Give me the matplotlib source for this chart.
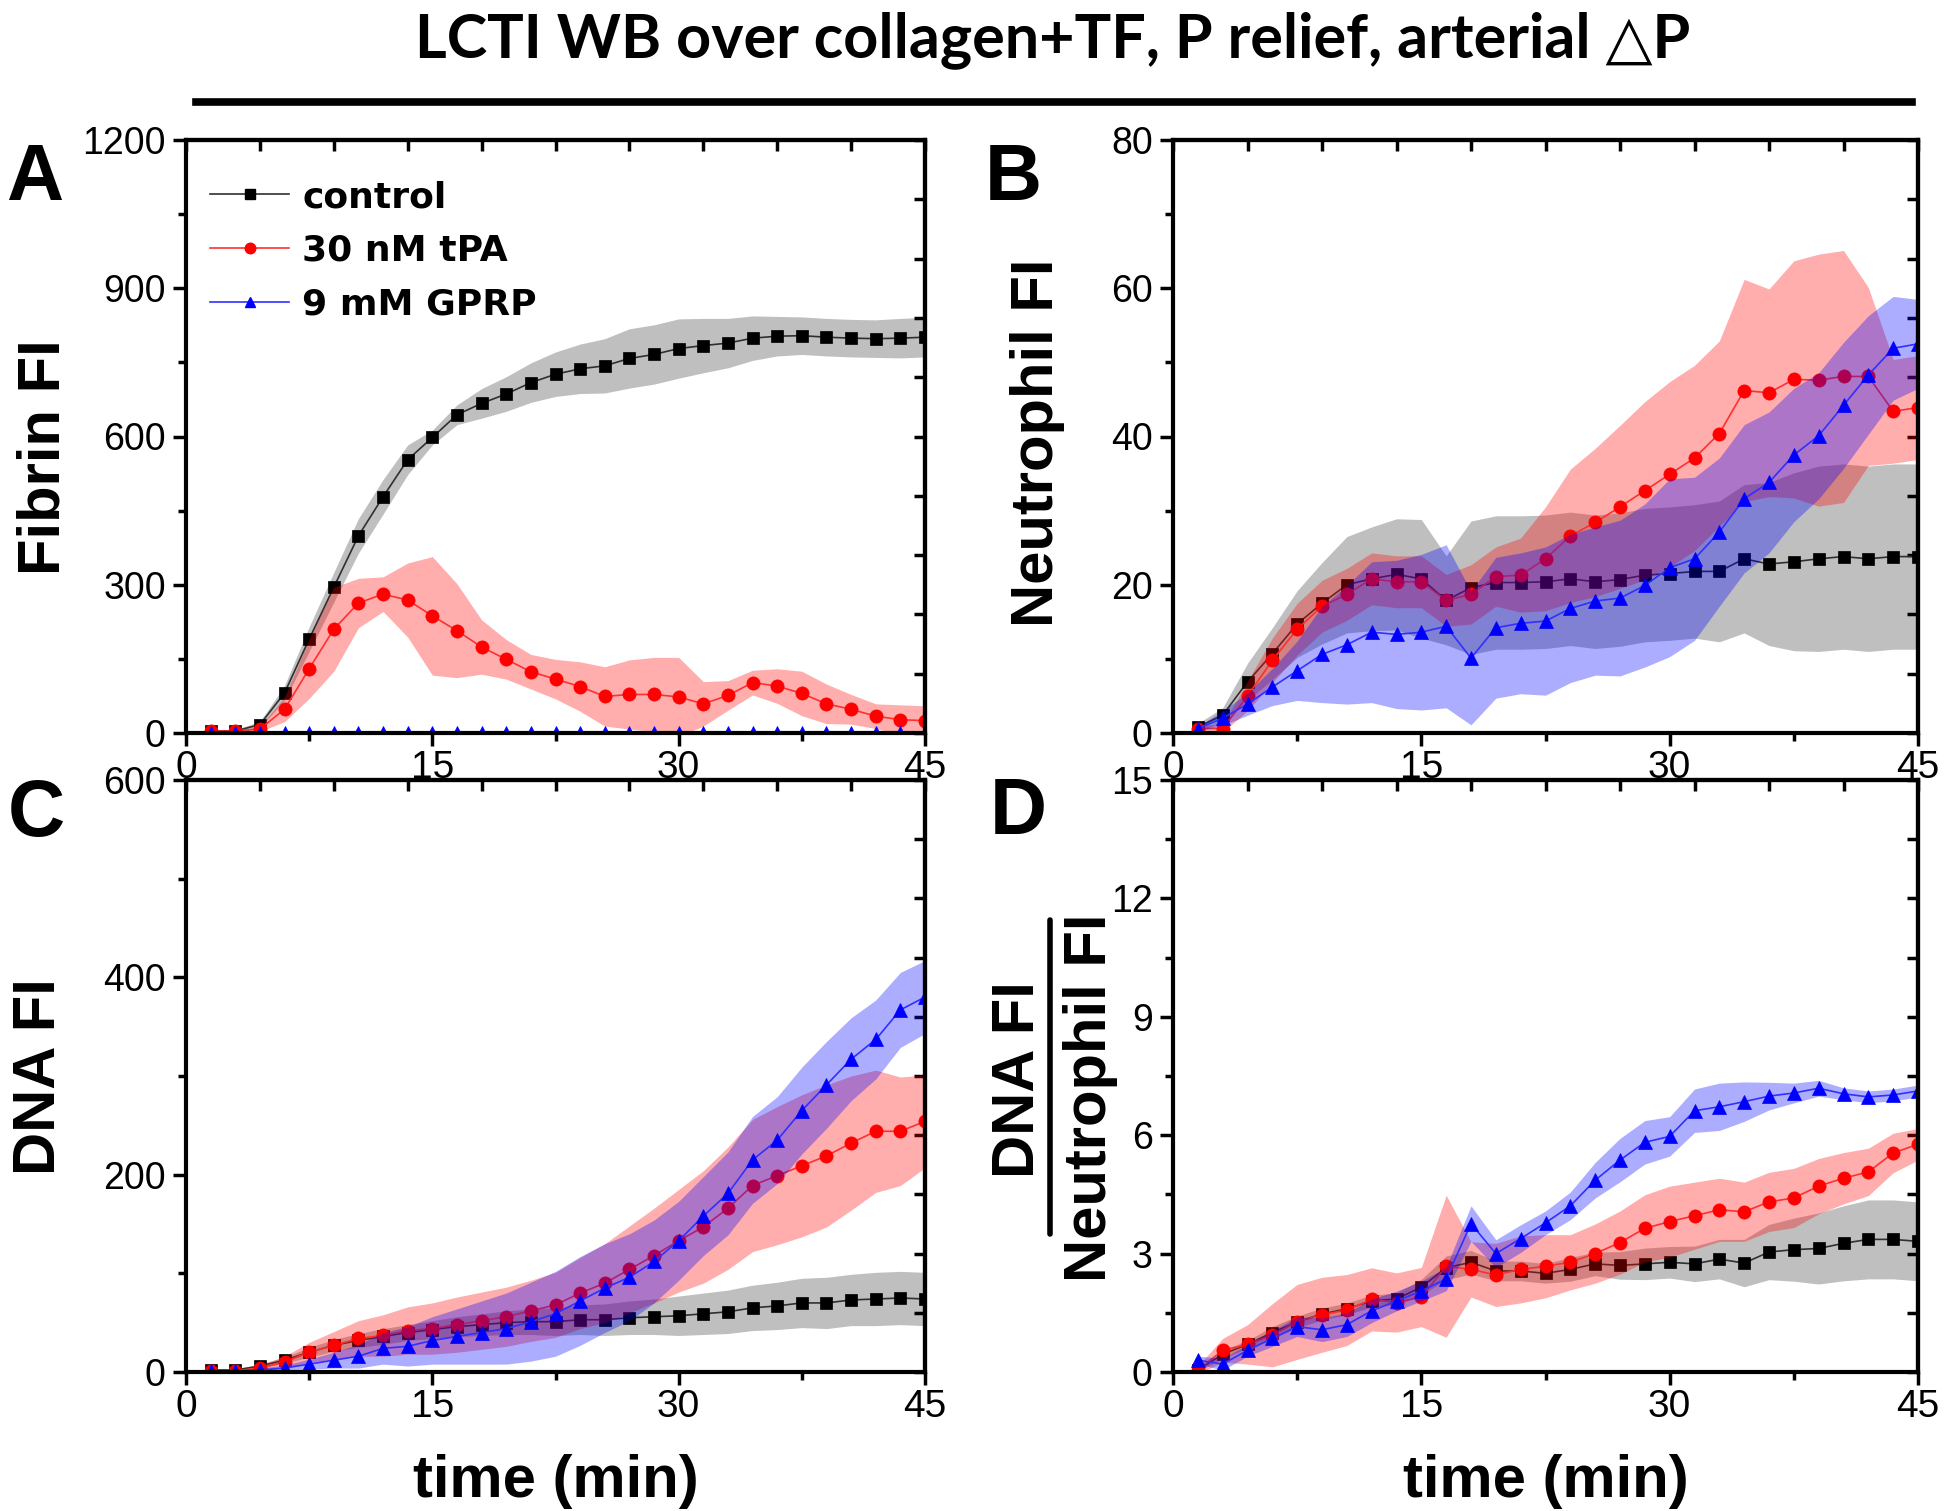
import numpy as np
import matplotlib
matplotlib.use('Agg')
import matplotlib.pyplot as plt
from matplotlib.lines import Line2D

# ---------------- data ----------------
time_min = [1.5, 3, 4.5, 6, 7.5, 9, 10.5, 12, 13.5, 15, 16.5, 18, 19.5, 21, 22.5,
            24, 25.5, 27, 28.5, 30, 31.5, 33, 34.5, 36, 37.5, 39, 40.5, 42, 43.5, 45]

series_names = ["control", "30 nM tPA", "9 mM GPRP"]

# Panel A: Fibrin FI
fibrin_control = [4, 4, 17, 81, 190, 295, 399, 478, 553, 598, 644, 667, 686, 709, 726,
                  737, 743, 758, 766, 778, 784, 789, 799, 803, 804, 801, 799, 798, 799, 801]
fibrin_control_sd = [3, 3, 6, 15, 25, 30, 35, 35, 30, 15, 20, 30, 35, 40, 45,
                     50, 55, 60, 60, 60, 55, 50, 45, 40, 38, 38, 38, 38, 40, 40]
fibrin_tpa = [4, 4, 8, 48, 130, 210, 263, 281, 269, 237, 207, 174, 149, 124, 109,
              94, 74, 78, 78, 73, 59, 76, 102, 95, 80, 59, 48, 34, 27, 25]
fibrin_tpa_sd = [2, 2, 5, 25, 60, 85, 50, 35, 75, 120, 95, 55, 40, 35, 40,
                 50, 60, 70, 75, 80, 45, 30, 25, 35, 45, 40, 30, 25, 30, 30]
fibrin_gprp = [1, 1, 1, 1, 1, 1, 1, 1, 1, 1, 1, 1, 1, 1, 1,
               1, 1, 1, 1, 1, 1, 1, 1, 1, 1, 1, 1, 1, 1, 1]
fibrin_gprp_sd = [1, 1, 1, 1, 1, 1, 1, 1, 1, 1, 1, 1, 1, 1, 1,
                  1, 1, 1, 1, 1, 1, 1, 1, 1, 1, 1, 1, 1, 1, 1]

# Panel B: Neutrophil FI
neut_control = [0.8, 2.4, 6.9, 10.7, 14.7, 17.5, 20.0, 20.8, 21.4, 20.8, 17.9, 19.6, 20.3, 20.3, 20.4,
                20.8, 20.4, 20.7, 21.3, 21.5, 21.8, 21.8, 23.5, 22.8, 23.1, 23.5, 23.8, 23.5, 23.8, 23.8]
neut_control_sd = [0.5, 1, 2.5, 3.5, 4.5, 5.5, 6.5, 7, 7.5, 8, 6, 9, 9, 9, 9,
                   9, 9, 9, 9, 9, 9, 9.5, 10, 11, 12, 12.5, 12.5, 12.5, 12.5, 12.5]
neut_tpa = [0.6, 0.6, 5.0, 9.8, 14.0, 17.1, 18.7, 20.8, 20.4, 20.4, 17.9, 18.7, 21.1, 21.3, 23.5,
            26.6, 28.4, 30.5, 32.7, 34.9, 37.1, 40.4, 46.2, 45.9, 47.7, 47.6, 48.1, 48.1, 43.4, 43.9]
neut_tpa_sd = [0.5, 0.5, 2, 3, 3.5, 3.5, 3.5, 3.5, 3.5, 3.5, 3.5, 4, 4, 5, 7,
               9, 10, 11, 12, 12.5, 12.5, 12.5, 15, 14, 16, 17, 17, 12, 7, 7]
neut_gprp = [0.6, 2.0, 3.9, 6.2, 8.4, 10.6, 11.9, 13.6, 13.3, 13.6, 14.4, 10.1, 14.2, 14.8, 15.1,
             16.8, 17.8, 18.2, 19.9, 22.3, 23.5, 27.1, 31.6, 33.8, 37.5, 40.1, 44.2, 48.3, 51.9, 52.5]
neut_gprp_sd = [0.3, 1, 1.5, 2.5, 4, 6.5, 8, 9.5, 10, 10.5, 11, 9, 9.5, 9.5, 10,
                10, 10, 10.5, 11, 12, 11, 10, 10, 9.5, 9, 8.5, 8.5, 8, 7, 6]

# Panel C: DNA FI
dna_control = [2, 2, 6, 12, 20, 27, 32, 36, 40, 43, 46, 48, 50, 51, 51,
               53, 53, 55, 56, 57, 59, 61, 65, 67, 70, 70, 73, 74, 75, 74]
dna_control_sd = [1, 1, 2, 3, 5, 6, 7, 8, 8, 9, 10, 11, 12, 13, 14,
                  15, 16, 17, 18, 20, 21, 22, 23, 24, 25, 26, 26, 27, 27, 27]
dna_tpa = [1, 1, 4, 10, 20, 27, 34, 37, 42, 44, 48, 52, 56, 62, 68,
           80, 90, 104, 118, 133, 147, 166, 189, 199, 209, 219, 232, 244, 244, 254]
dna_tpa_sd = [1, 1, 3, 6, 10, 14, 18, 21, 24, 26, 28, 29, 30, 31, 33,
              36, 40, 44, 48, 52, 57, 62, 67, 70, 72, 72, 68, 62, 55, 47]
dna_gprp = [1, 1, 2, 4, 8, 12, 16, 24, 26, 32, 36, 40, 44, 51, 59,
            72, 85, 96, 112, 133, 158, 181, 215, 235, 265, 291, 317, 337, 367, 380]
dna_gprp_sd = [1, 1, 2, 3, 5, 8, 12, 16, 20, 24, 28, 32, 36, 40, 43,
               45, 45, 44, 42, 40, 40, 42, 44, 44, 44, 44, 42, 40, 38, 37]

# Panel D: DNA FI / Neutrophil FI
ratio_control = [0.05, 0.45, 0.7, 1.0, 1.27, 1.47, 1.6, 1.8, 1.85, 2.15, 2.64, 2.78, 2.56, 2.56, 2.5,
                 2.6, 2.74, 2.7, 2.74, 2.78, 2.74, 2.86, 2.76, 3.04, 3.1, 3.13, 3.26, 3.36, 3.36, 3.31]
ratio_control_sd = [0.05, 0.1, 0.1, 0.15, 0.15, 0.15, 0.15, 0.15, 0.15, 0.2, 0.3, 0.3, 0.25, 0.25, 0.25,
                    0.3, 0.3, 0.35, 0.4, 0.4, 0.45, 0.5, 0.6, 0.7, 0.8, 0.9, 0.95, 1.0, 1.0, 1.0]
ratio_tpa = [0.05, 0.55, 0.7, 0.93, 1.27, 1.45, 1.57, 1.84, 1.76, 1.9, 2.68, 2.6, 2.46, 2.6, 2.68,
             2.78, 3.0, 3.28, 3.64, 3.81, 3.96, 4.11, 4.06, 4.31, 4.41, 4.71, 4.91, 5.07, 5.55, 5.77]
ratio_tpa_sd = [0.1, 0.3, 0.5, 0.8, 0.95, 0.95, 0.9, 0.8, 0.75, 0.75, 1.8, 0.7, 0.8, 0.85, 0.8,
                0.7, 0.75, 0.8, 0.85, 0.9, 0.85, 0.8, 0.75, 0.75, 0.75, 0.7, 0.65, 0.6, 0.5, 0.4]
ratio_gprp = [0.3, 0.2, 0.55, 0.85, 1.15, 1.07, 1.2, 1.55, 1.8, 2.05, 2.36, 3.76, 3.0, 3.38, 3.78,
              4.21, 4.86, 5.37, 5.82, 5.97, 6.62, 6.72, 6.85, 6.99, 7.07, 7.19, 7.05, 6.97, 7.02, 7.12]
ratio_gprp_sd = [0.1, 0.15, 0.15, 0.2, 0.25, 0.3, 0.3, 0.3, 0.25, 0.25, 0.3, 0.45, 0.35, 0.35, 0.3,
                 0.35, 0.45, 0.55, 0.55, 0.5, 0.55, 0.6, 0.5, 0.35, 0.25, 0.2, 0.15, 0.15, 0.15, 0.15]

x_ticks = [0, 15, 30, 45]
yticks_A = [0, 300, 600, 900, 1200]
yticks_B = [0, 20, 40, 60, 80]
yticks_C = [0, 200, 400, 600]
yticks_D = [0, 3, 6, 9, 12, 15]

title = "LCTI WB over collagen+TF, P relief, arterial \u25b3P"

# ---------------- style ----------------
W, H = 1947, 1511
fig = plt.figure(figsize=(W / 100, H / 100), dpi=100)


def fx(px):
    return px / W


def fy(py):
    return 1 - py / H


SANS = ['Liberation Sans', 'Arial', 'DejaVu Sans']
TITLE_FONT = ['Lato', 'DejaVu Sans']
LEGEND_FONT = ['DejaVu Sans']

line_colors = ['#303030', '#ff3030', '#3030ff']
marker_colors = ['black', 'red', 'blue']
band_colors = ['#000000', '#ff0000', '#0000ff']
band_alpha = [0.25, 0.32, 0.32]
markers = ['s', 'o', '^']
msizes = [8.5, 9.5, 9.5]

panel_px = {
    'A': (186, 925, 140, 733),
    'B': (1173, 1918, 140, 733),
    'C': (186, 925, 780, 1372),
    'D': (1173, 1918, 780, 1372),
}


def make_ax(key):
    l, r, t, b = panel_px[key]
    return fig.add_axes([fx(l), fy(b), (r - l) / W, (b - t) / H])


def draw(ax, ys, sds, ylim, yticks):
    t = np.array(time_min)
    z = 2
    for i in range(3):
        y = np.array(ys[i], dtype=float)
        sd = np.array(sds[i], dtype=float)
        ax.fill_between(t, y - sd, y + sd, color=band_colors[i], alpha=band_alpha[i],
                        lw=0, zorder=z)
        ax.plot(t, y, color=line_colors[i], lw=1.2, zorder=z + 1,
                marker=markers[i], ms=msizes[i], mfc=marker_colors[i],
                mec=marker_colors[i], mew=0.5)
        z += 2
    ax.set_xlim(0, 45)
    ax.set_ylim(*ylim)
    ax.set_xticks(x_ticks)
    ax.set_xticks([7.5, 22.5, 37.5], minor=True)
    ax.set_yticks(yticks)
    step = yticks[1] - yticks[0]
    ax.set_yticks(np.arange(ylim[0] + step / 2, ylim[1], step), minor=True)
    ax.tick_params(which='both', direction='out', top=False, right=False, width=2.5)
    ax.tick_params(which='major', length=9.5)
    ax.tick_params(which='minor', length=6)
    ax.tick_params(axis='x', which='major', labelsize=28, pad=3)
    ax.tick_params(axis='y', which='major', labelsize=27, pad=5)
    for lab in ax.get_xticklabels() + ax.get_yticklabels():
        lab.set_fontfamily(SANS)
    for s in ax.spines.values():
        s.set_linewidth(3)
        s.set_zorder(20)
    # opposite axes with their own tick spacing (ticks inward)
    sx = ax.secondary_xaxis('top')
    sx.set_xticks(np.linspace(0, 45, 11))
    sx.tick_params(direction='in', length=8, width=2.5, labeltop=False, labelbottom=False)
    sx.spines['top'].set_linewidth(3)
    sy = ax.secondary_yaxis('right')
    sy.set_yticks(np.linspace(ylim[0], ylim[1], 11))
    sy.tick_params(direction='in', length=8, width=2.5, labelright=False, labelleft=False)
    sy.spines['right'].set_linewidth(3)


axA = make_ax('A')
draw(axA, [fibrin_control, fibrin_tpa, fibrin_gprp],
     [fibrin_control_sd, fibrin_tpa_sd, fibrin_gprp_sd], (0, 1200), yticks_A)
axB = make_ax('B')
draw(axB, [neut_control, neut_tpa, neut_gprp],
     [neut_control_sd, neut_tpa_sd, neut_gprp_sd], (0, 80), yticks_B)
axC = make_ax('C')
draw(axC, [dna_control, dna_tpa, dna_gprp],
     [dna_control_sd, dna_tpa_sd, dna_gprp_sd], (0, 600), yticks_C)
axD = make_ax('D')
draw(axD, [ratio_control, ratio_tpa, ratio_gprp],
     [ratio_control_sd, ratio_tpa_sd, ratio_gprp_sd], (0, 15), yticks_D)

# legend in panel A
handles = [Line2D([], [], color=line_colors[i], lw=1.2, marker=markers[i],
                  ms=msizes[i] * 0.8, mfc=marker_colors[i], mec=marker_colors[i])
           for i in range(3)]
axA.legend(handles, series_names, loc='upper left',
           bbox_to_anchor=((210 - 186) / 739, (733 - 180) / 593),
           frameon=False, borderpad=0, borderaxespad=0, handlelength=2.2,
           handletextpad=0.35, labelspacing=0.55,
           prop={'family': LEGEND_FONT, 'weight': 'bold', 'size': 26})

# axis labels (rotated labels anchored at their baseline)
lab_kw = dict(family=SANS, weight='bold', size=43)
rot_kw = dict(rotation=90, rotation_mode='anchor', ha='center', va='baseline', **lab_kw)
fig.text(fx(60), fy(457), 'Fibrin FI', **rot_kw)
fig.text(fx(1053), fy(443), 'Neutrophil FI', **rot_kw)
fig.text(fx(55), fy(1077), 'DNA FI', **rot_kw)
fig.text(fx(1034), fy(1080), 'DNA FI', **rot_kw)
fig.text(fx(1106), fy(1098), 'Neutrophil FI', **rot_kw)
fig.add_artist(Line2D([fx(1050), fx(1050)], [fy(920), fy(1234)], color='black', lw=4,
                      solid_capstyle='round'))
fig.text(fx(556), fy(1497), 'time (min)', ha='center', va='baseline', **lab_kw)
fig.text(fx(1546), fy(1497), 'time (min)', ha='center', va='baseline', **lab_kw)

# panel letters
let_kw = dict(family=SANS, weight='bold', size=57, ha='left', va='baseline')
fig.text(fx(6), fy(200), 'A', **let_kw)
fig.text(fx(985), fy(200), 'B', **let_kw)
fig.text(fx(8), fy(836), 'C', **let_kw)
fig.text(fx(990), fy(834), 'D', **let_kw)

# title and rule
fig.text(fx(1053), fy(57), title, ha='center', va='baseline', family=TITLE_FONT,
         weight='bold', size=44)
fig.add_artist(Line2D([fx(196), fx(1912)], [fy(102), fy(102)], color='black', lw=5.5))

fig.savefig('out.png', dpi=100, facecolor='white')
